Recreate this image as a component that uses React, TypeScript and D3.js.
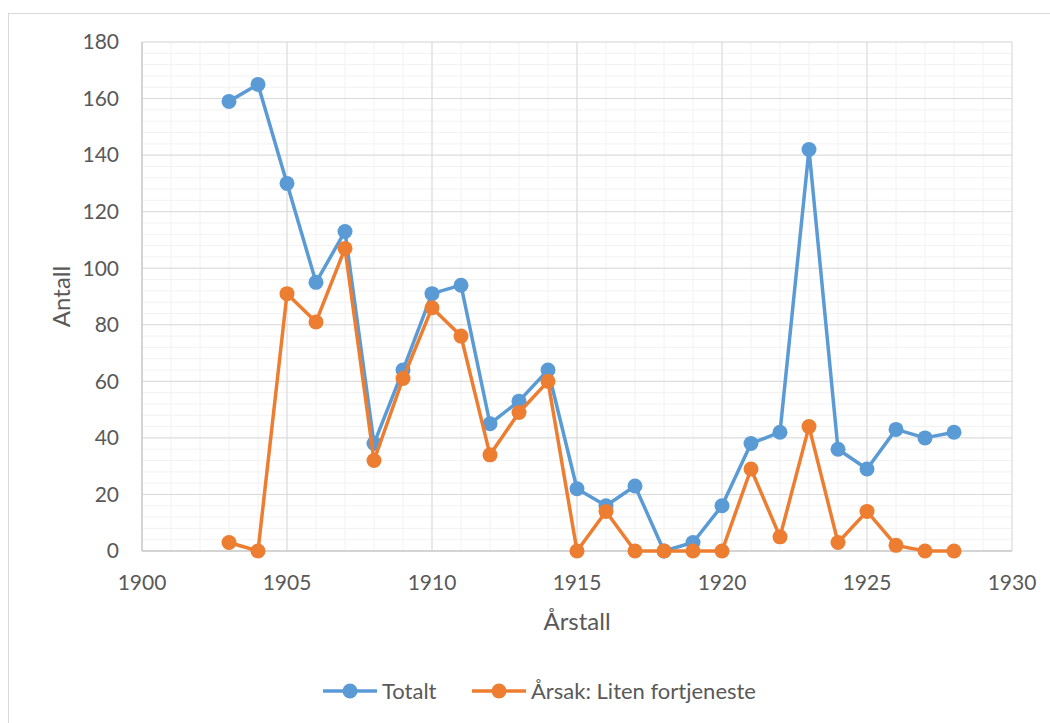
import React from "react";
import * as d3 from "d3";

const years = [1903,1904,1905,1906,1907,1908,1909,1910,1911,1912,1913,1914,1915,1916,1917,1918,1919,1920,1921,1922,1923,1924,1925,1926,1927,1928];
const totalt = [159,165,130,95,113,38,64,91,94,45,53,64,22,16,23,0,3,16,38,42,142,36,29,43,40,42];
const liten = [3,0,91,81,107,32,61,86,76,34,49,60,0,14,0,0,0,0,29,5,44,3,14,2,0,0];
const xTicks = [1900,1905,1910,1915,1920,1925,1930];
const yTicks = [0,20,40,60,80,100,120,140,160,180];
const seriesNames = ["Totalt", "Årsak: Liten fortjeneste"];
const colors = ["#5B9BD5", "#ED7D31"];

const L = 142, R = 1012, T = 42, B = 551;
const FONT = "Lato, 'Open Sans', sans-serif";
const TXT = "#595959";

export default function App() {
  const x = d3.scaleLinear().domain([1900, 1930]).range([L, R]);
  const y = d3.scaleLinear().domain([0, 180]).range([B, T]);
  const minorX = d3.range(1900, 1931, 1);
  const minorY = d3.range(0, 181, 4);
  const line = d3.line<[number, number]>().x(d => x(d[0])).y(d => y(d[1]));
  const data = [totalt, liten];
  return (
    <svg width={1050} height={723} style={{ position: "absolute", left: 0, top: 0 }}>
      <rect x={0} y={0} width={1050} height={723} fill="#fff" />
      <rect x={8.5} y={13.5} width={1100} height={800} fill="#fff" stroke="#d9d9d9" strokeWidth={1} />
      {minorX.map(v => (
        <line key={"mx" + v} x1={x(v)} x2={x(v)} y1={T} y2={B} stroke="#f2f2f2" strokeWidth={1} />
      ))}
      {minorY.map(v => (
        <line key={"my" + v} x1={L} x2={R} y1={y(v)} y2={y(v)} stroke="#f2f2f2" strokeWidth={1} />
      ))}
      {xTicks.map(v => (
        <line key={"gx" + v} x1={x(v)} x2={x(v)} y1={T} y2={B} stroke="#d9d9d9" strokeWidth={1} />
      ))}
      {yTicks.map(v => (
        <line key={"gy" + v} x1={L} x2={R} y1={y(v)} y2={y(v)} stroke="#d9d9d9" strokeWidth={1} />
      ))}
      <line x1={L} x2={L} y1={T} y2={B} stroke="#bfbfbf" strokeWidth={1} />
      <line x1={L} x2={R} y1={B} y2={B} stroke="#bfbfbf" strokeWidth={1} />
      {yTicks.map(v => (
        <text key={"yl" + v} x={119} y={y(v)} dy="0.35em" textAnchor="end" fontFamily={FONT} fontSize={21} fill={TXT}>{v}</text>
      ))}
      {xTicks.map(v => (
        <text key={"xl" + v} x={x(v)} y={583} dy="0.35em" textAnchor="middle" fontFamily={FONT} fontSize={21} fill={TXT}>{v}</text>
      ))}
      <text x={577} y={622} dy="0.35em" textAnchor="middle" fontFamily={FONT} fontSize={24} fill={TXT}>Årstall</text>
      <text transform={`translate(62,${(T + B) / 2}) rotate(-90)`} dy="0.35em" textAnchor="middle" fontFamily={FONT} fontSize={24} fill={TXT}>Antall</text>
      {data.map((vals, si) => {
        const pts = years.map((yr, i) => [yr, vals[i]] as [number, number]);
        return (
          <g key={"s" + si}>
            <path d={line(pts) || ""} fill="none" stroke={colors[si]} strokeWidth={3.5} strokeLinejoin="round" />
            {pts.map((p, i) => (
              <circle key={i} cx={x(p[0])} cy={y(p[1])} r={7.5} fill={colors[si]} />
            ))}
          </g>
        );
      })}
      {seriesNames.map((name, i) => {
        const x0 = [323, 472][i];
        return (
          <g key={"lg" + i}>
            <line x1={x0} x2={x0 + 54} y1={691} y2={691} stroke={colors[i]} strokeWidth={3.5} />
            <circle cx={x0 + 27} cy={691} r={7.5} fill={colors[i]} />
            <text x={x0 + 59} y={691} dy="0.35em" fontFamily={FONT} fontSize={22} fill={TXT}>{name}</text>
          </g>
        );
      })}
    </svg>
  );
}
